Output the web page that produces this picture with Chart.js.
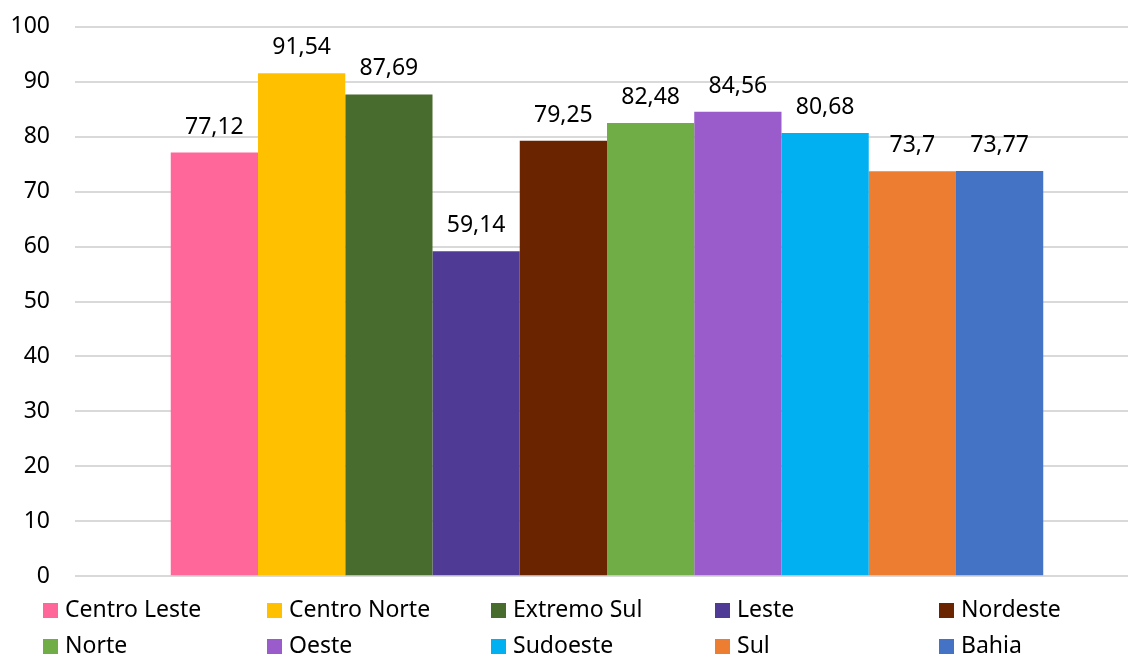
<!DOCTYPE html>
<html>
<head>
<meta charset="utf-8">
<script src="https://cdn.jsdelivr.net/npm/chart.js@4/dist/chart.umd.min.js"></script>
<style>
  html, body { margin: 0; padding: 0; background: #fff; }
  body { position: relative; width: 1128px; height: 654px; overflow: hidden; font-family: "Noto Sans", sans-serif; }
  #wrap { position: absolute; left: 0; top: -12px; width: 1140px; height: 627px; }
  #legenda {
    position: absolute; left: 43px; top: 590px;
    display: grid; grid-template-columns: repeat(5, 224px);
    font-size: 23px; line-height: 36px; color: #000;
  }
  #legenda span.box { display: inline-block; width: 15px; height: 15px; margin-right: 7px; vertical-align: -1px; }
</style>
</head>
<body>
<div id="wrap"><canvas id="grafico"></canvas></div>
<div id="legenda"></div>
<script>
const regioes = ['Centro Leste', 'Centro Norte', 'Extremo Sul', 'Leste', 'Nordeste', 'Norte', 'Oeste', 'Sudoeste', 'Sul', 'Bahia'];
const valores = [77.12, 91.54, 87.69, 59.14, 79.25, 82.48, 84.56, 80.68, 73.7, 73.77];
const cores = ['#FF6699', '#FFC000', '#486B2E', '#4F3A96', '#6A2400', '#70AD47', '#9B5CCB', '#00B0F0', '#ED7D31', '#4472C4'];
const ticksY = [0, 10, 20, 30, 40, 50, 60, 70, 80, 90, 100];

// rotulos em cima das barras (sem plugin externo)
const rotulos = {
    id: 'rotulos',
    afterDatasetsDraw(chart) {
        const ctx = chart.ctx;
        ctx.save();
        ctx.font = '23px "Noto Sans"';
        ctx.fillStyle = '#000';
        ctx.textAlign = 'center';
        ctx.textBaseline = 'alphabetic';
        chart.data.datasets.forEach((ds, i) => {
            const bar = chart.getDatasetMeta(i).data[0];
            ctx.fillText(String(ds.data[0]).replace('.', ','), bar.x, bar.y - 19);
        });
        ctx.restore();
    }
};

let grafico = new Chart(document.getElementById('grafico').getContext('2d'), {
    type: 'bar',
    data: {
        labels: [''],
        datasets: regioes.map((r, i) => ({
            label: r,
            data: [valores[i]],
            backgroundColor: cores[i],
            borderWidth: 0
        }))
    },
    options: {
        responsive: true,
        maintainAspectRatio: false,
        animation: false,
        categoryPercentage: 0.82,
        barPercentage: 1,
        layout: { padding: { left: 0, right: 1, top: 4, bottom: 15 } },
        plugins: {
            legend: { display: false },
            tooltip: { enabled: false }
        },
        scales: {
            x: {
                display: false
            },
            y: {
                min: 0,
                max: 100,
                afterBuildTicks: axis => { axis.ticks = ticksY.map(v => ({ value: v })); },
                afterFit: axis => { axis.width = 75; },
                grid: { color: '#D9D9D9', lineWidth: 2, drawTicks: false },
                border: { display: false },
                ticks: {
                    color: '#000',
                    padding: 25,
                    font: { family: 'Noto Sans', size: 23 }
                }
            }
        }
    },
    plugins: [rotulos]
});

const legenda = document.getElementById('legenda');
regioes.forEach((r, i) => {
    const item = document.createElement('div');
    item.innerHTML = '<span class="box" style="background:' + cores[i] + '"></span>' + r;
    legenda.appendChild(item);
});
</script>
</body>
</html>
